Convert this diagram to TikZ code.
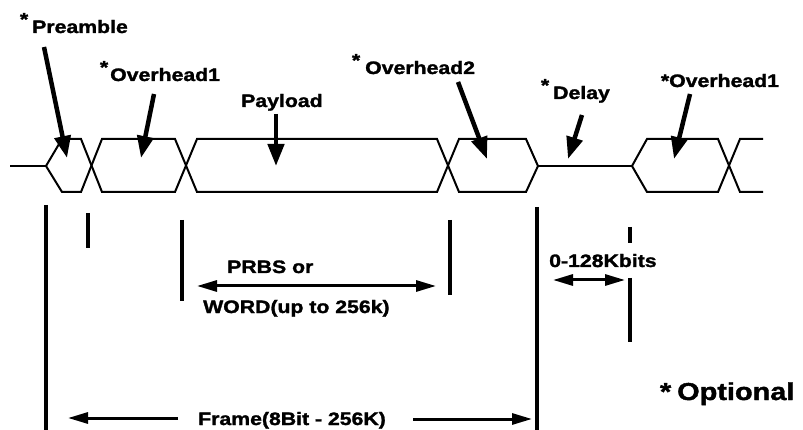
\documentclass[tikz,border=0pt]{standalone}
\usepackage{fontspec}
\setmainfont{Liberation Sans}[FakeStretch=1.18, BoldFeatures={FakeBold=1.6}]
\usetikzlibrary{arrows.meta}
\newcommand\myast[2]{\llap{\raisebox{#1}{*}\hspace{#2}}}
\begin{document}
\begin{tikzpicture}[x=1pt,y=-1pt,
  lbl/.style={font=\fontsize{18}{20}\selectfont\bfseries, inner sep=0pt, anchor=base west},
  biglbl/.style={font=\fontsize{24.5}{28}\selectfont\bfseries, inner sep=0pt, anchor=base west},
  bus/.style={line width=2pt, line join=miter},
  ptr/.style={line width=4.5pt, -{Triangle[length=22pt,width=16pt]}},
  dimln/.style={line width=3pt, {Triangle[length=20pt,width=11pt]}-{Triangle[length=20pt,width=11pt]}},
  dimto/.style={line width=3pt, -{Triangle[length=20pt,width=11pt]}},
  tickln/.style={line width=4pt}]
\useasboundingbox (0,0) rectangle (803,430);

% ---- waveform
\coordinate (lead) at (10,166);
\coordinate (p0) at (46,166);
\coordinate (d0) at (538,166);
\coordinate (d1) at (632,166);
\draw[bus] (lead) -- (p0);
\draw[bus] (p0) -- (62,139) -- (81,139) -- (102,192) -- (175,192) -- (197,139) -- (437,139) -- (459,192) -- (526,192) -- (d0);
\draw[bus] (p0) -- (62,192) -- (81,192) -- (102,139) -- (175,139) -- (197,192) -- (437,192) -- (459,139) -- (526,139) -- (d0);
\draw[bus] (d0) -- (d1);
\draw[bus] (d1) -- (647,139) -- (718,139) -- (740,192) -- (763,192);
\draw[bus] (d1) -- (647,192) -- (718,192) -- (740,139) -- (763,139);

% ---- top labels
\node[lbl] (pre) at (32,33) {\myast{0.42em}{4pt}Preamble};
\node[lbl] (oh1) at (110,81) {\myast{0.42em}{2pt}Overhead1};
\node[lbl] (pay) at (241,107) {Payload};
\node[lbl] (oh2) at (365,74) {\myast{0.42em}{5pt}Overhead2};
\node[lbl] (dly) at (553,99) {\myast{0.42em}{4pt}Delay};
\node[lbl] (oh1r) at (669,87) {\myast{0pt}{0pt}Overhead1};

% ---- pointer arrows
\coordinate (preT) at (44,47);   \coordinate (preH) at (67,158);
\coordinate (oh1T) at (154,94);  \coordinate (oh1H) at (141,158);
\coordinate (payT) at (276,114); \coordinate (payH) at (276,166);
\coordinate (oh2T) at (458,82);  \coordinate (oh2H) at (487,159);
\coordinate (dlyT) at (582,115); \coordinate (dlyH) at (568,159);
\coordinate (ohrT) at (690,94);  \coordinate (ohrH) at (674,159);
\draw[ptr] (preT) -- (preH);
\draw[ptr] (oh1T) -- (oh1H);
\draw[ptr] (payT) -- (payH);
\draw[ptr] (oh2T) -- (oh2H);
\draw[ptr] (dlyT) -- (dlyH);
\draw[ptr] (ohrT) -- (ohrH);

% ---- vertical markers
\coordinate (vA1) at (46,205);  \coordinate (vA2) at (46,430);
\coordinate (vB1) at (88,213);  \coordinate (vB2) at (88,248);
\coordinate (vC1) at (182,220); \coordinate (vC2) at (182,301);
\coordinate (vD1) at (450,220); \coordinate (vD2) at (450,295);
\coordinate (vE1) at (537,207); \coordinate (vE2) at (537,430);
\coordinate (vF1) at (630,227); \coordinate (vF2) at (630,243);
\coordinate (vG1) at (630,278); \coordinate (vG2) at (630,342);
\draw[tickln] (vA1) -- (vA2);
\draw[tickln] (vB1) -- (vB2);
\draw[tickln] (vC1) -- (vC2);
\draw[tickln] (vD1) -- (vD2);
\draw[tickln] (vE1) -- (vE2);
\draw[tickln] (vF1) -- (vF2);
\draw[tickln] (vG1) -- (vG2);

% ---- dimension arrows and texts
\coordinate (prbsL) at (197,286); \coordinate (prbsR) at (436,286);
\draw[dimln] (prbsL) -- (prbsR);
\node[lbl] (prbs) at (227,273) {PRBS or};
\node[lbl] (word) at (203,313) {WORD(up to 256k)};

\coordinate (dlL) at (553,280); \coordinate (dlR) at (625,280);
\draw[dimln] (dlL) -- (dlR);
\node[lbl] (kb) at (549,267) {0-128Kbits};

\node[lbl] (frame) at (198,425) {Frame(8Bit - 256K)};
\coordinate (frL) at (68,418);  \coordinate (frLs) at (178,418);
\coordinate (frRs) at (413,419); \coordinate (frR) at (532,419);
\draw[dimto] (frLs) -- (frL);
\draw[dimto] (frRs) -- (frR);

\node[biglbl] (opt) at (677,400) {\myast{0pt}{6pt}Optional};
\end{tikzpicture}
\end{document}
